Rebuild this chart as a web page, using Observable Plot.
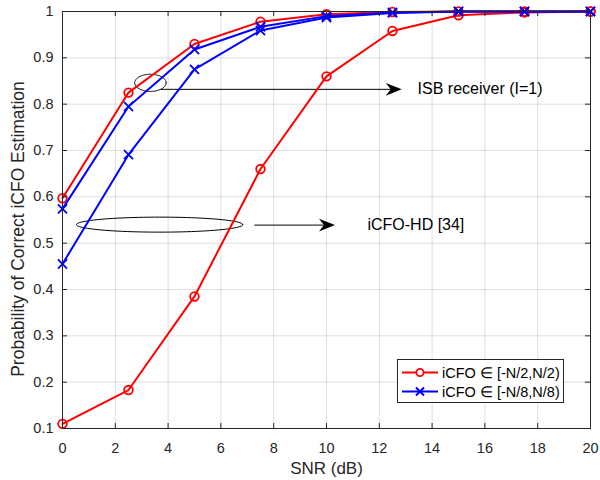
<!DOCTYPE html>
<html><head><meta charset="utf-8">
<script src="https://cdn.jsdelivr.net/npm/d3@7"></script>
<script src="https://cdn.jsdelivr.net/npm/@observablehq/plot@0.6"></script>
<style>
body{margin:0;background:#fff;font-family:"Liberation Sans",Arial,sans-serif;}
#wrap{position:relative;width:600px;height:480px;}
#legend{position:absolute;left:397px;top:359px;}
</style></head><body><div id="wrap"></div>
<script>
// ---- data ----
const snr = [0, 2.5, 5, 7.5, 10, 12.5, 15, 17.5, 20];
const isbHalf   = [0.597, 0.825, 0.930, 0.978, 0.994, 0.999, 1.000, 1.000, 1.000];
const isbEighth = [0.574, 0.795, 0.918, 0.967, 0.990, 0.998, 1.000, 1.000, 1.000];
const hdHalf    = [0.110, 0.183, 0.385, 0.660, 0.860, 0.958, 0.992, 0.998, 1.000];
const hdEighth  = [0.455, 0.691, 0.875, 0.959, 0.987, 0.997, 1.000, 1.000, 1.000];
const xTicks = [0, 2, 4, 6, 8, 10, 12, 14, 16, 18, 20];
const yTicks = [0.1, 0.2, 0.3, 0.4, 0.5, 0.6, 0.7, 0.8, 0.9, 1];
const yTickLabels = ["0.1", "0.2", "0.3", "0.4", "0.5", "0.6", "0.7", "0.8", "0.9", "1"];
const seriesNames = ["iCFO \u2208 [-N/2,N/2)", "iCFO \u2208 [-N/8,N/8)"];
const seriesColors = ["#ff0000", "#0000ff"];
const xLabel = "SNR (dB)";
const yLabel = "Probability of Correct iCFO Estimation";
// annotations (data units)
const annoLabels = ["ISB receiver (I=1)", "iCFO-HD [34]"];
const annoX = [13.45, 11.55];
const annoY = [0.832, 0.539];
const ellCx = [3.33, 3.68];
const ellCy = [0.846, 0.540];
const ellRx = [0.595, 3.15];
const ellRy = [0.0185, 0.0162];
const arrX1 = [3.71, 7.27];
const arrX2 = [12.85, 10.32];
const arrY  = [0.832, 0.539];

// ---- build ----
const series = [
  {vals: isbHalf, k: 0}, {vals: hdHalf, k: 0},
  {vals: isbEighth, k: 1}, {vals: hdEighth, k: 1}
];
const ellPts = [];
ellCx.forEach((cx, j) => {
  for (let t = 0; t <= 96; t++) {
    const a = t / 96 * 2 * Math.PI;
    ellPts.push({e: j, x: cx + ellRx[j] * Math.cos(a), y: ellCy[j] + ellRy[j] * Math.sin(a)});
  }
});
const arrowHead = {draw(ctx) { ctx.moveTo(0, 0); ctx.lineTo(-16, -6.3); ctx.lineTo(-11, 0); ctx.lineTo(-16, 6.3); ctx.closePath(); }};
const idx = [0, 1];
const ink = "#262626";
const W = 600, H = 480, mL = 62, mR = 10, mT = 11, mB = 52;
const iw = W - mL - mR, ih = H - mT - mB;

const marks = [
  Plot.gridX(xTicks, {stroke: ink, strokeOpacity: 0.15}),
  Plot.gridY(yTicks, {stroke: ink, strokeOpacity: 0.15}),
  Plot.line(ellPts, {x: "x", y: "y", z: "e", stroke: "#000", strokeWidth: 1}),
  Plot.link(idx, {x1: i => arrX1[i], x2: i => arrX2[i] - 0.3, y1: i => arrY[i], y2: i => arrY[i], stroke: "#000", strokeWidth: 1}),
  Plot.dot(idx, {x: i => arrX2[i], y: i => arrY[i], symbol: arrowHead, r: 5, fill: "#000", stroke: "none"}),
  Plot.text(idx, {x: i => annoX[i], y: i => annoY[i], text: i => annoLabels[i], textAnchor: "start", fontSize: 16, fill: "#000"})
];
series.forEach(s => {
  const pts = snr.map((x, i) => ({x, y: s.vals[i]}));
  const c = seriesColors[s.k];
  marks.push(Plot.line(pts, {x: "x", y: "y", stroke: c, strokeWidth: 2}));
  marks.push(Plot.dot(pts, {x: "x", y: "y", stroke: c, strokeWidth: 1.8, r: s.k === 0 ? 4.3 : 4.2, symbol: s.k === 0 ? "circle" : "times", fill: "none"}));
});
marks.push(
  Plot.tickX(xTicks, {x: d => d, stroke: ink, insetTop: ih - 5}),
  Plot.tickX(xTicks, {x: d => d, stroke: ink, insetBottom: ih - 5}),
  Plot.tickY(yTicks, {y: d => d, stroke: ink, insetRight: iw - 5}),
  Plot.tickY(yTicks, {y: d => d, stroke: ink, insetLeft: iw - 5}),
  Plot.frame({stroke: ink, strokeWidth: 1}),
  Plot.axisX(xTicks, {tickSize: 0, tickPadding: 14, label: null, fontSize: 14.5, fill: ink}),
  Plot.axisY(yTicks, {tickSize: 0, tickPadding: 9, label: null, fontSize: 14.5, fill: ink, tickFormat: (d, i) => yTickLabels[yTicks.indexOf(d)]}),
  Plot.text([xLabel], {frameAnchor: "bottom", textAnchor: "middle", lineAnchor: "middle", dy: 40, fontSize: 17, fill: ink, text: d => d}),
  Plot.text([yLabel], {frameAnchor: "left", textAnchor: "middle", lineAnchor: "middle", rotate: -90, dx: -44.5, dy: 9, fontSize: 17.5, fill: ink, text: d => d})
);

const chart = Plot.plot({
  width: W, height: H, marginLeft: mL, marginRight: mR, marginTop: mT, marginBottom: mB,
  x: {domain: [0, 20]}, y: {domain: [0.1, 1]},
  style: {fontFamily: '"Liberation Sans", Arial, sans-serif', fontSize: "14.5px", color: ink, background: "#fff", overflow: "visible"},
  marks
});
const wrap = document.getElementById("wrap");
wrap.appendChild(chart);

// legend
const lg = d3.create("svg").attr("id", "legend").attr("width", 168).attr("height", 45)
  .style("font-family", '"Liberation Sans", Arial, sans-serif');
lg.append("rect").attr("x", 0.5).attr("y", 0.5).attr("width", 166).attr("height", 43)
  .attr("fill", "#fff").attr("stroke", ink);
seriesNames.forEach((name, i) => {
  const cy = i === 0 ? 13.5 : 32.5;
  const c = seriesColors[i];
  lg.append("line").attr("x1", 5).attr("x2", 41).attr("y1", cy).attr("y2", cy).attr("stroke", c).attr("stroke-width", 2);
  if (i === 0) {
    lg.append("circle").attr("cx", 23).attr("cy", cy).attr("r", 3.6).attr("fill", "#fff").attr("stroke", c).attr("stroke-width", 1.8);
  } else {
    lg.append("path").attr("d", `M19,${cy-4}L27,${cy+4}M19,${cy+4}L27,${cy-4}`).attr("stroke", c).attr("stroke-width", 2);
  }
  lg.append("text").attr("x", 45).attr("y", cy).attr("dy", "0.35em").attr("font-size", 14.5).attr("fill", "#000").text(name);
});
wrap.appendChild(lg.node());
</script></body></html>
